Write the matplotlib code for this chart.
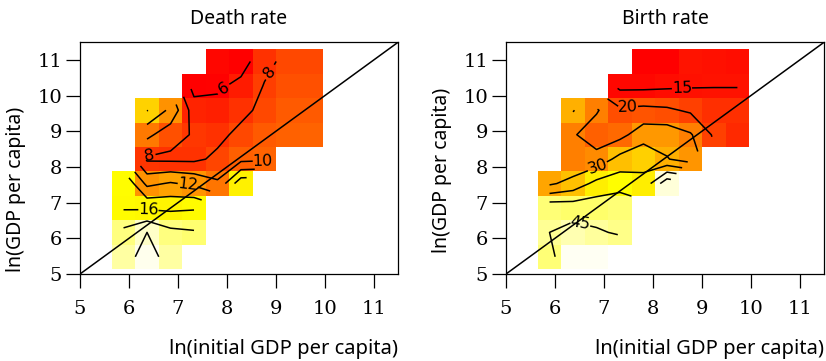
import numpy as np
import matplotlib
matplotlib.use("Agg")
import matplotlib.pyplot as plt
from matplotlib.colors import LinearSegmentedColormap

nan = np.nan

# grid cell edges (same for both panels)
x_edges = [5.65, 6.13, 6.61, 7.09, 7.57, 8.05, 8.53, 9.01, 9.49, 9.97]
y_edges = [5.14, 5.825, 6.51, 7.195, 7.88, 8.565, 9.25, 9.935, 10.62, 11.305]

# death rate, rows from bottom (low GDP) to top
death = [
    [19.2, 20.8, 19.2, nan, nan, nan, nan, nan, nan],
    [18.5, 20.0, 18.5, 18.2, nan, nan, nan, nan, nan],
    [15.8, 15.7, 15.6, 15.8, nan, nan, nan, nan, nan],
    [15.9, 11.5, 12.2, 11.6, 10.3, 15.4, nan, nan, nan],
    [nan, 7.7, 7.6, 7.6, 8.4, 9.4, 9.6, nan, nan],
    [nan, 10.5, 8.8, 7.8, 7.5, 8.5, 9.2, 9.5, 9.6],
    [nan, 14.1, 11.5, 7.0, 6.8, 7.5, 8.5, 9.2, 9.2],
    [nan, nan, nan, 5.2, 5.6, 6.6, 8.1, 8.8, 8.8],
    [nan, nan, nan, nan, 5.8, 5.0, 7.5, 8.5, 8.5],
]

# birth rate
birth = [
    [43.5, 49.8, 49.8, nan, nan, nan, nan, nan, nan],
    [45.0, 46.5, 45.5, 44.5, nan, nan, nan, nan, nan],
    [43.5, 43.0, 43.0, 43.5, nan, nan, nan, nan, nan],
    [29.2, 31.8, 36.5, 38.0, 36.3, 48.5, nan, nan, nan],
    [nan, 25.5, 26.7, 31.7, 33.4, 30.3, 27.6, nan, nan],
    [nan, 25.5, 22.4, 23.4, 27.9, 27.9, 25.5, 19.3, 17.1],
    [nan, 30.3, 25.5, 20.8, 21.3, 20.8, 19.3, 17.7, 17.7],
    [nan, nan, nan, 13.8, 13.8, 14.2, 14.6, 14.8, 14.8],
    [nan, nan, nan, nan, 13.0, 13.0, 14.9, 14.6, 14.4],
]

death_levels = [6, 8, 10, 12, 14, 16, 18, 20]
birth_levels = [15, 20, 25, 30, 35, 40, 45]
# where the contour labels sit, per level
death_label_at = {6: [(7.9, 10.3)], 8: [(6.4, 8.4), (8.8, 10.8)], 10: [(8.8, 8.2)],
                  12: [(7.2, 7.45)], 16: [(6.4, 6.85)]}
birth_label_at = {15: [(8.6, 10.0)], 20: [(7.5, 9.4)], 30: [(6.9, 7.85)], 45: [(6.5, 6.2)]}

ticks = [5, 6, 7, 8, 9, 10, 11]

# R heat.colors style
heat = LinearSegmentedColormap.from_list(
    "heat", [(0.0, "#FF0000"), (0.677, "#FFFF00"), (0.84, "#FFFF80"), (1.0, "#FFFFF6")])

fig = plt.figure(figsize=(8.26, 3.61), dpi=100)
ax1 = fig.add_axes([80 / 826, 1 - 274 / 361, 318 / 826, 231.7 / 361])
ax2 = fig.add_axes([506 / 826, 1 - 274 / 361, 318 / 826, 231.7 / 361])

panels = [
    (ax1, death, "Death rate", death_levels, death_label_at, 5.5, 21, 0.01),
    (ax2, birth, "Birth rate", birth_levels, birth_label_at, 13, 50, 0.09),
]

xe = np.array(x_edges)
ye = np.array(y_edges)
xc = (xe[:-1] + xe[1:]) / 2
yc = (ye[:-1] + ye[1:]) / 2

for ax, vals, title, levels, label_at, vmin, vmax, ylab_y in panels:
    Z = np.ma.masked_invalid(np.array(vals))
    ax.pcolormesh(xe, ye, Z, cmap=heat, vmin=vmin, vmax=vmax, shading="flat")
    # one contour set per level so each label lands on its own line
    for lev in levels:
        cs = ax.contour(xc, yc, Z, levels=[lev], colors="black", linewidths=1.1)
        if lev in label_at:
            ax.clabel(cs, inline=True, fmt="%d", fontsize=11.5, manual=label_at[lev])
    ax.axline((5, 5), slope=1, color="black", linewidth=1.1)

    ax.set_xlim(5, 11.5)
    ax.set_ylim(5, 11.5)
    ax.set_xticks(ticks)
    ax.set_yticks(ticks)
    ax.tick_params(direction="out", length=10, width=0.9, labelsize=14,
                   labelfontfamily="DejaVu Serif")
    ax.tick_params(axis="x", pad=8.5)
    ax.tick_params(axis="y", pad=3)
    for sp in ax.spines.values():
        sp.set_linewidth(0.9)

    ax.set_title(title, fontsize=14, fontfamily="Noto Sans", pad=13)
    ax.set_xlabel("ln(initial GDP per capita)", fontsize=14.5, fontfamily="Noto Sans", loc="right")
    ax.set_ylabel("ln(GDP per capita)", fontsize=14, fontfamily="Noto Sans", loc="bottom")
    ax.xaxis.set_label_coords(1.0, -0.28)
    ax.yaxis.set_label_coords(-0.17, ylab_y)

fig.savefig("out.png", dpi=100)
